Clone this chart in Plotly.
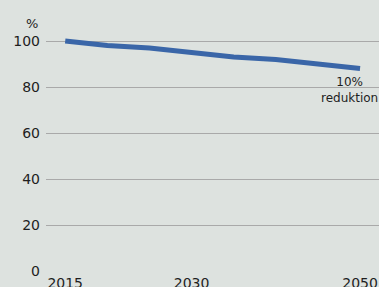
import plotly.graph_objects as go

years = [2015, 2020, 2025, 2030, 2035, 2040, 2045, 2050]
values = [100, 98, 97, 95, 93, 92, 90, 88]
y_ticks = [0, 20, 40, 60, 80, 100]
x_ticks = [2015, 2030, 2050]

BG = "#dde2df"
FONT = "DejaVu Sans"
TXT = "#1e1e1e"

fig = go.Figure()
fig.add_trace(go.Scatter(x=years, y=values, mode="lines",
                         line=dict(color="#3a66a8", width=5),
                         hoverinfo="skip"))

fig.add_annotation(x=2048.7, y=78.5, xref="x", yref="y",
                   text="10%<br>reduktion", showarrow=False,
                   font=dict(family=FONT, size=12, color=TXT),
                   align="center", xanchor="center", yanchor="middle")
fig.add_annotation(x=-0.043, y=107.8, xref="paper", yref="y",
                   text="%", showarrow=False,
                   font=dict(family=FONT, size=13, color=TXT),
                   xanchor="center", yanchor="middle")

fig.update_layout(
    width=379, height=287,
    margin=dict(l=46, r=0, t=18, b=16, autoexpand=False),
    paper_bgcolor=BG, plot_bgcolor=BG,
    showlegend=False,
    font=dict(family=FONT, size=14, color=TXT),
    xaxis=dict(range=[2012.72, 2052.25], tickvals=x_ticks,
               ticktext=[str(v) for v in x_ticks],
               showgrid=False, zeroline=False, showline=False,
               ticks="", ticklabelstandoff=2, automargin=False,
               tickfont=dict(family=FONT, size=14, color=TXT)),
    yaxis=dict(range=[0, 110], tickvals=y_ticks,
               showgrid=True, gridcolor="#a9a9a9", gridwidth=1,
               zeroline=False, showline=False, ticks="",
               ticklabelstandoff=5, automargin=False,
               tickfont=dict(family=FONT, size=14, color=TXT)),
)

fig.write_html("out.html", config={"displayModeBar": False},
               post_script="document.body.style.margin='0';document.body.style.background='%s';" % BG)
